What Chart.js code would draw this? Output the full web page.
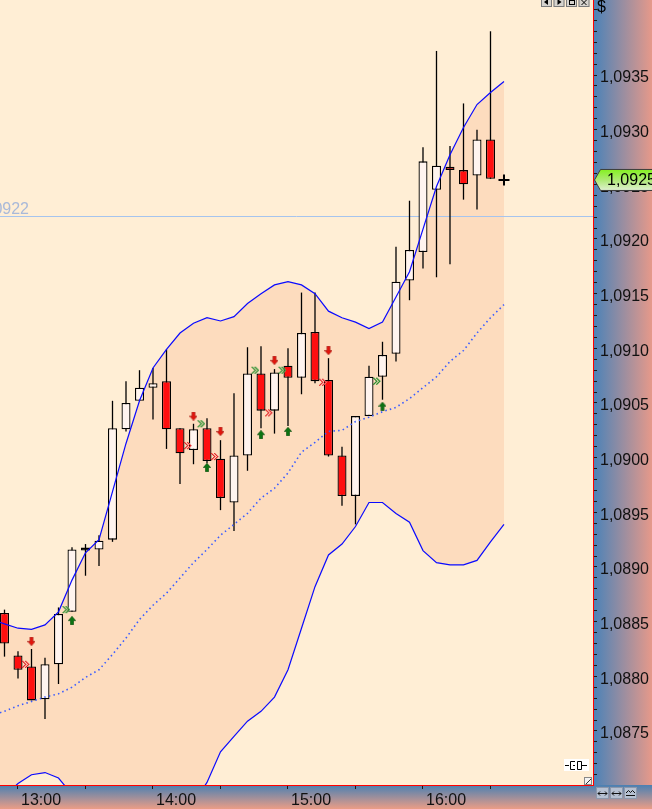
<!DOCTYPE html>
<html>
<head>
<meta charset="utf-8">
<script src="https://cdn.jsdelivr.net/npm/chart.js@4.4.1/dist/chart.umd.min.js"></script>
<style>
html,body{margin:0;padding:0;background:#fff;overflow:hidden}
#wrap{width:652px;height:809px;position:relative}
canvas{display:block}
</style>
</head>
<body>
<div id="wrap"><canvas id="c" width="652" height="809" style="width:652px;height:809px"></canvas></div>
<script>
// ---- time slots (6-minute bars) ----
const slotTimes = ['12:48','12:54','13:00','13:06','13:12','13:18','13:24','13:30','13:36','13:42','13:48','13:54',
  '14:00','14:06','14:12','14:18','14:24','14:30','14:36','14:42','14:48','14:54',
  '15:00','15:06','15:12','15:18','15:24','15:30','15:36','15:42','15:48','15:54',
  '16:00','16:06','16:12','16:18','16:24','16:30','16:36'];

// ---- candles (slots 1..37, 12:54 .. 16:30) ----
const openP  = [1.08858,1.08819,1.08809,1.08779,1.08811,1.08859,1.08915,1.08916,1.08925,1.09026,1.09052,1.09064,1.09070,
  1.09027,1.09007,1.09027,1.08999,1.08959,1.09002,1.09077,1.09043,1.09084,1.09073,1.09115,1.09071,1.09002,1.08965,
  1.09038,1.09074,1.09095,1.09162,1.09188,1.09245,1.09266,1.09263,1.09258,1.09291];
const highP  = [1.08861,1.08823,1.08825,1.08817,1.08863,1.08918,1.08921,1.08929,1.09052,1.09070,1.09080,1.09082,1.09099,
  1.09027,1.09031,1.09036,1.09016,1.09059,1.09101,1.09102,1.09081,1.09100,1.09151,1.09151,1.09091,1.09010,1.09038,
  1.09084,1.09106,1.09193,1.09235,1.09284,1.09372,1.09285,1.09324,1.09300,1.09390];
const lowP   = [1.08818,1.08798,1.08778,1.08761,1.08793,1.08859,1.08892,1.08901,1.08923,1.09024,1.09052,1.09035,1.09008,
  1.08976,1.08994,1.08995,1.08952,1.08933,1.08988,1.09027,1.09022,1.09029,1.09058,1.09068,1.09001,1.08956,1.08939,
  1.09038,1.09053,1.09088,1.09144,1.09173,1.09165,1.09177,1.09236,1.09227,1.09255];
const closeP = [1.08830,1.08806,1.08778,1.08811,1.08857,1.08916,1.08915,1.08924,1.09027,1.09050,1.09064,1.09068,1.09026,
  1.09004,1.09026,1.08997,1.08963,1.09002,1.09077,1.09043,1.09078,1.09073,1.09114,1.09070,1.09002,1.08965,1.09038,
  1.09074,1.09094,1.09161,1.09190,1.09271,1.09267,1.09263,1.09250,1.09291,1.09255];

// ---- Bollinger bands (slots 0..38) ----
const bandUpper = [1.08852,1.08848,1.08844,1.08843,1.08847,1.08859,1.08888,1.08913,1.08925,1.08969,1.09013,1.09052,1.09082,
  1.09099,1.09114,1.09123,1.09128,1.09125,1.09129,1.09141,1.09150,1.09158,1.09161,1.09158,1.09150,1.09134,1.09128,
  1.09124,1.09118,1.09124,1.09147,1.09170,1.09209,1.09248,1.09277,1.09302,1.09323,1.09334,1.09344];
const bandMiddle = [1.08764,1.08768,1.08773,1.08777,1.08781,1.08784,1.08790,1.08799,1.08806,1.08820,1.08835,1.08852,1.08865,
  1.08876,1.08890,1.08904,1.08916,1.08929,1.08939,1.08949,1.08963,1.08972,1.08986,1.09005,1.09014,1.09024,1.09025,
  1.09033,1.09037,1.09042,1.09046,1.09054,1.09064,1.09074,1.09088,1.09098,1.09114,1.09128,1.09140];
const bandLower = [1.08678,1.08690,1.08702,1.08710,1.08712,1.08707,1.08692,1.08684,1.08687,1.08675,1.08660,1.08653,1.08649,
  1.08653,1.08667,1.08684,1.08703,1.08731,1.08745,1.08759,1.08768,1.08781,1.08806,1.08844,1.08882,1.08911,1.08921,
  1.08937,1.08959,1.08959,1.08949,1.08941,1.08915,1.08904,1.08902,1.08902,1.08906,1.08923,1.08939];

// ---- signals ----
const sellSlots = [3,15,17,21,25];
const sellPrices = [1.08832,1.09038,1.09024,1.09089,1.09098];
const buySlots = [6,16,20,22,29];
const buyPrices = [1.08851,1.08991,1.09021,1.09024,1.09047];
const redMarkSlots = [2,14,16,20,24];
const redMarkPrices = [1.08811,1.09011,1.09001,1.09041,1.09069];
const greenMarkSlots = [5,15,19,21,28];
const greenMarkPrices = [1.08861,1.09031,1.09080,1.09080,1.09070];

const lastSlot = 38;
const lastPrice = 1.09254;
const refLevel = 1.09221;

const yView = [1.087006, 1.094186];
const xView = [0.6667, 44.593];
const yStep = 0.0001;
const yLabelEvery = 5;
const yLabelMax = 1.0938;

// ---------- helpers ----------
const fmt4 = v => v.toFixed(4).replace('.', ',');
function mk(w, h, fn) { const c = document.createElement('canvas'); c.width = w; c.height = h; fn(c.getContext('2d')); return c; }
const downArrow = mk(8, 9, g => {
  g.fillStyle = '#e3140c'; g.strokeStyle = '#9a0a05'; g.lineWidth = 0.6;
  g.beginPath(); g.moveTo(2.5,0.3); g.lineTo(5.5,0.3); g.lineTo(5.5,4.5); g.lineTo(7.7,4.5); g.lineTo(4,8.7); g.lineTo(0.3,4.5); g.lineTo(2.5,4.5); g.closePath(); g.fill(); g.stroke();
});
const upArrow = mk(8, 9, g => {
  g.fillStyle = '#0c7412'; g.strokeStyle = '#054a08'; g.lineWidth = 0.6;
  g.beginPath(); g.moveTo(2.5,8.7); g.lineTo(5.5,8.7); g.lineTo(5.5,4.5); g.lineTo(7.7,4.5); g.lineTo(4,0.3); g.lineTo(0.3,4.5); g.lineTo(2.5,4.5); g.closePath(); g.fill(); g.stroke();
});
function chevron(col, light) {
  return mk(24, 9, g => {
    const pts = [[0,1],[1,2],[2,3],[3,4],[2,5],[1,6],[0,7]];
    for (const off of [16, 19]) {
      for (const [dx, dy] of pts) {
        g.fillStyle = col; g.fillRect(off + dx, dy, 1, 1);
        g.fillStyle = light; g.fillRect(off + dx + 1, dy, 1, 1);
      }
    }
  });
}
const redChev = chevron('#e01818', '#f27c7c');
const greenChev = chevron('#157a15', '#6fb86f');

const candleSlots = openP.map((_, i) => i + 1);
const bodyColors = openP.map((o, i) => closeP[i] === o ? '#000000' : (closeP[i] > o ? '#fff4ef' : '#ff0f0f'));

const decor = {
  id: 'decor',
  beforeDraw(chart) {
    const {ctx, chartArea: a, width: W, height: H} = chart;
    ctx.save();
    ctx.fillStyle = '#ffeed5';
    ctx.fillRect(a.left, a.top, a.right - a.left, a.bottom - a.top);
    let g = ctx.createLinearGradient(a.right, 0, W, 0);
    g.addColorStop(0, '#4a82b8'); g.addColorStop(1, '#e6998a');
    ctx.fillStyle = g; ctx.fillRect(a.right, 0, W - a.right, a.bottom);
    g = ctx.createLinearGradient(0, a.bottom, 0, H);
    g.addColorStop(0, '#4b80b2'); g.addColorStop(1, '#eb9d86');
    ctx.fillStyle = g; ctx.fillRect(0, a.bottom, W, H - a.bottom);
    ctx.restore();
  },
  beforeDatasetsDraw(chart) {
    const {ctx, chartArea: a} = chart;
    const y = Math.round(chart.scales.y.getPixelForValue(refLevel)) + 0.5;
    ctx.save();
    ctx.beginPath(); ctx.rect(a.left, a.top, a.right - a.left, a.bottom - a.top); ctx.clip();
    ctx.strokeStyle = '#a6c4ee'; ctx.lineWidth = 1;
    ctx.beginPath(); ctx.moveTo(a.left, y); ctx.lineTo(a.right, y); ctx.stroke();
    ctx.fillStyle = '#a9b9d9'; ctx.font = "16px 'Liberation Sans', Arial, sans-serif";
    ctx.textAlign = 'right'; ctx.textBaseline = 'alphabetic';
    ctx.fillText(fmt4(refLevel), 29, y - 3);
    ctx.restore();
  },
  afterDraw(chart) {
    const {ctx, chartArea: a, width: W} = chart;
    ctx.save();
    // current price label
    const y = chart.scales.y.getPixelForValue(lastPrice);
    const x0 = a.right + 1;
    const hh = 10.5;
    ctx.beginPath();
    ctx.moveTo(x0 + 0.5, y); ctx.lineTo(x0 + 6.5, y - hh); ctx.lineTo(W + 2, y - hh);
    ctx.lineTo(W + 2, y + hh); ctx.lineTo(x0 + 6.5, y + hh); ctx.closePath();
    const g = ctx.createLinearGradient(0, y - hh, 0, y + hh);
    g.addColorStop(0, '#84f020'); g.addColorStop(0.5, '#aeea74'); g.addColorStop(1, '#e0f0d2');
    ctx.fillStyle = g; ctx.fill();
    ctx.strokeStyle = '#3c3c3c'; ctx.lineWidth = 1; ctx.stroke();
    ctx.fillStyle = '#000'; ctx.font = "16px 'Liberation Sans', Arial, sans-serif";
    ctx.textAlign = 'left'; ctx.textBaseline = 'middle';
    ctx.fillText(fmt4(lastPrice), x0 + 13, y + 1);
    // currency sign
    ctx.textBaseline = 'top';
    ctx.fillText('$', x0 + 3, 0);
    // top-right buttons
    for (let i = 0; i < 4; i++) {
      const bx = a.right - 52 + i * 12.5;
      ctx.fillStyle = '#d6d3ce'; ctx.fillRect(bx, -3, 11, 10);
      ctx.strokeStyle = '#7a7a7a'; ctx.strokeRect(bx + 0.5, -2.5, 10, 9);
      ctx.fillStyle = '#000'; ctx.strokeStyle = '#000';
      ctx.beginPath();
      if (i === 0) { ctx.moveTo(bx + 3, 2); ctx.lineTo(bx + 7, -1); ctx.lineTo(bx + 7, 5); ctx.closePath(); ctx.fill(); }
      else if (i === 1) { ctx.moveTo(bx + 8, 2); ctx.lineTo(bx + 4, -1); ctx.lineTo(bx + 4, 5); ctx.closePath(); ctx.fill(); }
      else if (i === 2) { ctx.strokeRect(bx + 3.5, 0.5, 5, 4); }
      else { ctx.lineWidth = 1; ctx.moveTo(bx + 3, 0); ctx.lineTo(bx + 8, 5); ctx.moveTo(bx + 8, 0); ctx.lineTo(bx + 3, 5); ctx.stroke(); }
    }
    // plug icon
    ctx.fillStyle = '#ffffff'; ctx.fillRect(a.right - 29, a.bottom - 26, 25, 12);
    ctx.strokeStyle = '#000'; ctx.lineWidth = 1;
    const py = a.bottom - 19.5, px = a.right - 28;
    ctx.beginPath();
    ctx.moveTo(px, py); ctx.lineTo(px + 4, py);
    ctx.moveTo(px + 10, py - 4); ctx.lineTo(px + 5.5, py - 4); ctx.lineTo(px + 5.5, py + 4); ctx.lineTo(px + 10, py + 4);
    ctx.moveTo(px + 8, py); ctx.lineTo(px + 10, py);
    ctx.moveTo(px + 12.5, py - 4); ctx.lineTo(px + 16.5, py - 4); ctx.lineTo(px + 16.5, py + 4); ctx.lineTo(px + 12.5, py + 4); ctx.closePath();
    ctx.moveTo(px + 17, py); ctx.lineTo(px + 22, py);
    ctx.stroke();
    // resize box
    ctx.fillStyle = '#f2f2f2'; ctx.fillRect(a.right - 9, a.bottom - 8, 8, 8);
    ctx.strokeStyle = '#888'; ctx.strokeRect(a.right - 8.5, a.bottom - 7.5, 7, 7);
    ctx.strokeStyle = '#333'; ctx.beginPath(); ctx.moveTo(a.right - 7, a.bottom - 1); ctx.lineTo(a.right - 2, a.bottom - 6); ctx.stroke();
    // bottom-right buttons
    for (let i = 0; i < 3; i++) {
      const bx = a.right + 3 + i * 14, by = a.bottom + 2;
      ctx.fillStyle = '#b7c1d2'; ctx.fillRect(bx, by, 13, 12);
      ctx.strokeStyle = '#8d98ab'; ctx.strokeRect(bx + 0.5, by + 0.5, 12, 11);
      ctx.strokeStyle = '#111'; ctx.beginPath();
      if (i < 2) {
        ctx.moveTo(bx + 2, by + 6.5); ctx.lineTo(bx + 11, by + 6.5);
        ctx.moveTo(bx + 4, by + 4.5); ctx.lineTo(bx + 2, by + 6.5); ctx.lineTo(bx + 4, by + 8.5);
        ctx.moveTo(bx + 9, by + 4.5); ctx.lineTo(bx + 11, by + 6.5); ctx.lineTo(bx + 9, by + 8.5);
      } else {
        ctx.moveTo(bx + 2, by + 6); ctx.lineTo(bx + 4.5, by + 3.5); ctx.lineTo(bx + 6.5, by + 5.5); ctx.lineTo(bx + 8.5, by + 3.5); ctx.lineTo(bx + 11, by + 6);
        ctx.moveTo(bx + 2, by + 8.5); ctx.lineTo(bx + 11, by + 8.5);
      }
      ctx.stroke();
    }
    ctx.restore();
  }
};

Chart.defaults.font.family = "'Liberation Sans', Arial, sans-serif";
Chart.defaults.font.size = 16;
Chart.defaults.color = '#111';

new Chart(document.getElementById('c'), {
  type: 'bar',
  data: {
    datasets: [
      { type: 'scatter', data: [{x: lastSlot, y: lastPrice}], pointStyle: 'cross', pointRadius: 5.5, borderColor: '#000', borderWidth: 2 },
      { type: 'scatter', data: sellSlots.map((s, i) => ({x: s, y: sellPrices[i]})), pointStyle: downArrow, pointRadius: 3 },
      { type: 'scatter', data: buySlots.map((s, i) => ({x: s, y: buyPrices[i]})), pointStyle: upArrow, pointRadius: 3 },
      { type: 'scatter', data: redMarkSlots.map((s, i) => ({x: s, y: redMarkPrices[i]})), pointStyle: redChev, pointRadius: 3 },
      { type: 'scatter', data: greenMarkSlots.map((s, i) => ({x: s, y: greenMarkPrices[i]})), pointStyle: greenChev, pointRadius: 3 },
      { type: 'line', data: bandUpper.map((v, i) => ({x: i, y: v})), borderColor: '#0a0aff', borderWidth: 1.2, pointRadius: 0, tension: 0, fill: false },
      { type: 'line', data: bandMiddle.map((v, i) => ({x: i, y: v})), borderColor: '#3a5cff', borderWidth: 1.6, borderDash: [1.5, 3.2], pointRadius: 0, tension: 0, fill: false },
      { type: 'line', data: bandLower.map((v, i) => ({x: i, y: v})), borderColor: '#0a0aff', borderWidth: 1.2, pointRadius: 0, tension: 0,
        fill: {target: 5}, backgroundColor: '#fddcbe' },
      { type: 'bar', data: candleSlots.map((s, i) => ({x: s, y: [openP[i], closeP[i]]})), backgroundColor: bodyColors,
        borderColor: '#000', borderWidth: 1.3, borderSkipped: false, barThickness: 9, grouped: false, minBarLength: 3, inflateAmount: 0 },
      { type: 'bar', data: candleSlots.map((s, i) => ({x: s, y: [lowP[i], highP[i]]})), backgroundColor: '#000',
        borderWidth: 0, barThickness: 1.3, grouped: false, inflateAmount: 0 }
    ]
  },
  options: {
    responsive: false,
    animation: false,
    events: [],
    layout: { padding: 0, autoPadding: false },
    plugins: { legend: { display: false }, tooltip: { enabled: false }, filler: { drawTime: 'beforeDatasetsDraw' } },
    scales: {
      x: {
        type: 'linear', position: 'bottom', min: xView[0], max: xView[1], offset: false,
        grid: { drawOnChartArea: false, offset: false, tickLength: 4, tickColor: '#1a1a1a', tickWidth: 1 },
        border: { color: '#ff0000', width: 1 },
        afterBuildTicks: s => { s.ticks = slotTimes.map((t, i) => ({value: i})).filter(o => /:(00|30)$/.test(slotTimes[o.value])); },
        afterFit: s => { s.height = 24; s.paddingLeft = 0; s.paddingRight = 0; },
        ticks: { autoSkip: false, maxRotation: 0, align: 'start', labelOffset: 3, padding: 2, color: '#111',
          callback: v => { const t = slotTimes[v]; return t && t.endsWith(':00') ? t : ''; } }
      },
      y: {
        type: 'linear', position: 'right', min: yView[0], max: yView[1],
        grid: { drawOnChartArea: false, tickLength: 4, tickColor: '#1a1a1a', tickWidth: 1 },
        border: { color: '#ff0000', width: 1 },
        afterFit: s => { s.width = 59; s.paddingTop = 0; s.paddingBottom = 0; },
        ticks: { stepSize: yStep, includeBounds: false, autoSkip: false, padding: 3, labelOffset: 3, color: '#111',
          callback: v => { const n = Math.round(v / yStep); return (n % yLabelEvery === 0 && v < yLabelMax) ? fmt4(v) : ''; } }
      }
    }
  },
  plugins: [decor]
});
</script>
</body>
</html>
